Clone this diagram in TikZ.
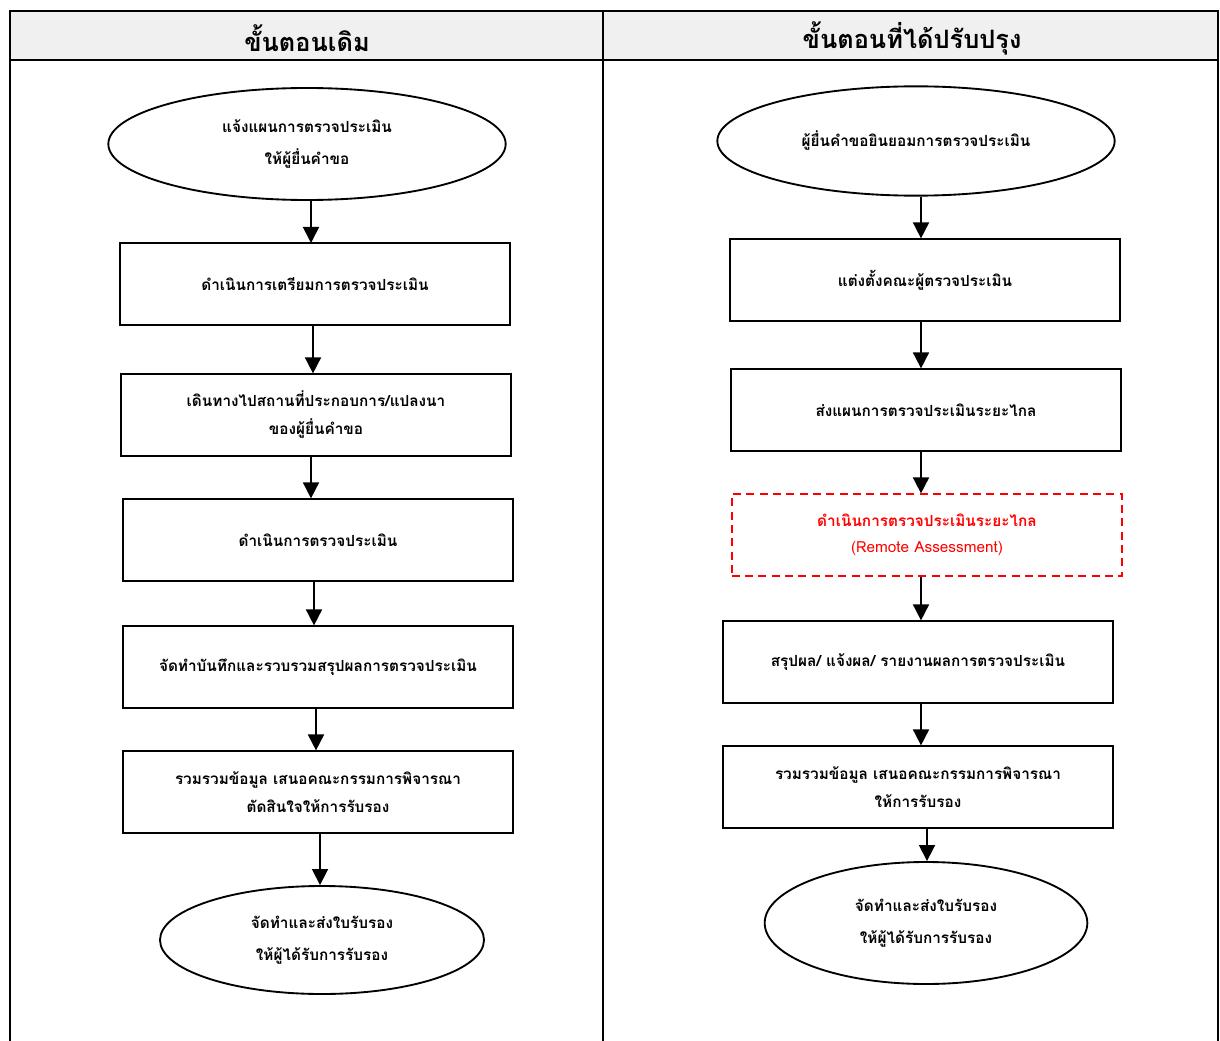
\documentclass[tikz,border=0pt]{standalone}
\usepackage{fontspec}
\newfontfamily\thaifont[Script=Thai]{Loma}
\usetikzlibrary{shapes.geometric,arrows.meta}
\begin{document}
\begin{tikzpicture}[x=0.75pt,y=-0.75pt]
            \tikzstyle{step box}=[draw, line width=1.4pt, minimum width=293pt, minimum height=61pt, align=center, font=\thaifont\bfseries\fontsize{11.5}{21}\selectfont]
            \tikzstyle{end oval}=[draw, ellipse, line width=1.4pt, inner sep=0pt, align=center, font=\thaifont\bfseries\fontsize{11.5}{24}\selectfont]
            \tikzstyle{remote box}=[step box, draw=red, dash pattern=on 6pt off 4pt, text=red, font=\thaifont\fontsize{11.5}{19.5}\selectfont]
            \tikzstyle{flow}=[line width=1.3pt, -{Triangle[length=12pt,width=12pt]}]
            \tikzstyle{head}=[font=\thaifont\bfseries\fontsize{19}{20}\selectfont]
            \useasboundingbox (0,0) rectangle (1220,1041);
            % table
            \fill [gray!12] (10,11) rectangle (1218,60);
            \draw [line width=1.5pt] (10,1041) -- (10,11) -- (1218,11) -- (1218,1041);
            \draw [line width=1.5pt] (10,60) -- (1218,60);
            \draw [line width=1.5pt] (603,11) -- (603,1041);
            \node [head] (oldhead) at (307,38) {ขั้นตอนเดิม};
            \node [head] (newhead) at (912,38) {ขั้นตอนที่ได้ปรับปรุง};
            % old steps
            \node [end oval, minimum width=298pt, minimum height=84pt] (o0) at (307,144) {\raisebox{-3pt}{แจ้งแผนการตรวจประเมิน}\\\raisebox{-3pt}{ให้ผู้ยื่นคำขอ}};
            \node [step box] (o1) at (315,284) {ดำเนินการเตรียมการตรวจประเมิน};
            \node [step box] (o2) at (316,415) {เดินทางไปสถานที่ประกอบการ/แปลงนา\\ของผู้ยื่นคำขอ};
            \node [step box] (o3) at (318,540) {ดำเนินการตรวจประเมิน};
            \node [step box] (o4) at (318,667) {จัดทำบันทึกและรวบรวมสรุปผลการตรวจประเมิน};
            \node [step box] (o5) at (318,792) {รวมรวมข้อมูล เสนอคณะกรรมการพิจารณา\\ตัดสินใจให้การรับรอง};
            \node [end oval, minimum width=243pt, minimum height=81pt] (o6) at (322,940) {จัดทำและส่งใบรับรอง\\ให้ผู้ได้รับการรับรอง};
            \draw [flow] (311,200) -- (311,243);
            \draw [flow] (o1.south -| 313,0) -- (o2.north -| 313,0);
            \draw [flow] (o2.south -| 311,0) -- (o3.north -| 311,0);
            \draw [flow] (o3.south -| 314,0) -- (o4.north -| 314,0);
            \draw [flow] (o4.south -| 316,0) -- (o5.north -| 316,0);
            \draw [flow] (o5.south -| 320,0) -- (o6.north -| 320,0);
            % new steps
            \node [end oval, minimum width=298pt, minimum height=82pt] (n0) at (916,141) {ผู้ยื่นคำขอยินยอมการตรวจประเมิน};
            \node [step box] (n1) at (925,280) {แต่งตั้งคณะผู้ตรวจประเมิน};
            \node [step box] (n2) at (926,410) {ส่งแผนการตรวจประเมินระยะไกล};
            \node [remote box] (n3) at (927,535) {\textbf{ดำเนินการตรวจประเมินระยะไกล}\\(Remote Assessment)};
            \node [step box] (n4) at (918,662) {สรุปผล/ แจ้งผล/ รายงานผลการตรวจประเมิน};
            \node [step box] (n5) at (918,787) {รวมรวมข้อมูล เสนอคณะกรรมการพิจารณา\\ให้การรับรอง};
            \node [end oval, minimum width=242pt, minimum height=91.5pt] (n6) at (926,923) {จัดทำและส่งใบรับรอง\\ให้ผู้ได้รับการรับรอง};
            \draw [flow] (n0.south -| 921,0) -- (n1.north -| 921,0);
            \draw [flow] (n1.south -| 921,0) -- (n2.north -| 921,0);
            \draw [flow] (n2.south -| 921,0) -- (n3.north -| 921,0);
            \draw [flow] (n3.south -| 921,0) -- (n4.north -| 921,0);
            \draw [flow] (n4.south -| 921,0) -- (n5.north -| 921,0);
            \draw [flow] (n5.south -| 927,0) -- (n6.north -| 927,0);
        \end{tikzpicture}
\end{document}
